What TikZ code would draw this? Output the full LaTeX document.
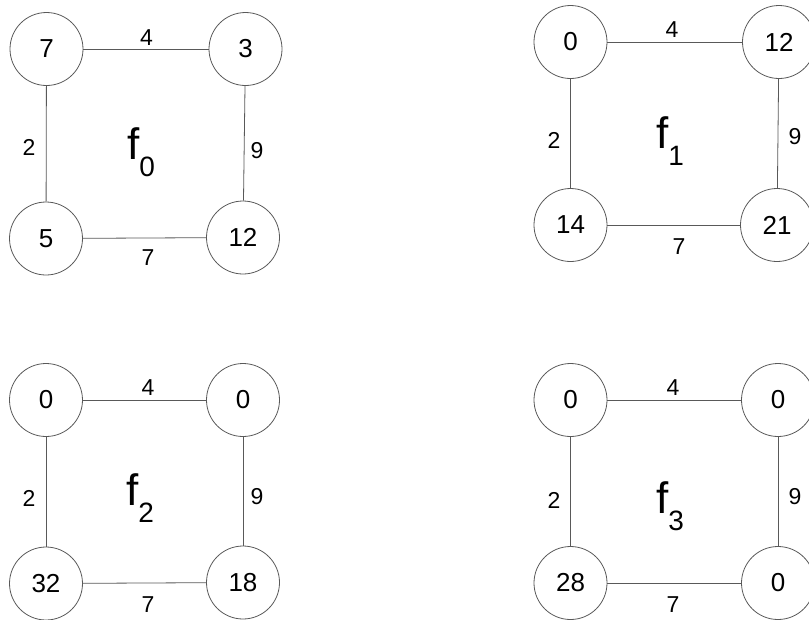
\documentclass[tikz,border=0pt]{standalone}
\usepackage{fontspec}
\setmainfont{Liberation Sans}
\begin{document}
\begin{tikzpicture}[x=1pt,y=-1pt,
  vtx/.style={circle,draw=black!65,line width=0.8pt,minimum size=73pt,inner sep=0pt,font=\fontsize{26}{26}\selectfont},
  edg/.style={draw=black!65,line width=0.8pt},
  wlab/.style={inner sep=0pt,font=\fontsize{23}{23}\selectfont},
  fname/.style={inner sep=0pt,anchor=base west}]
\newcommand{\fsub}[1]{{\fontsize{44}{44}\selectfont f}\raisebox{-17.5pt}{\fontsize{28}{28}\selectfont #1}}
\useasboundingbox (0,0) rectangle (809,619);
% panel f0
\node[vtx] (a1) at (46.5,49) {7};
\node[vtx] (a2) at (245.5,49) {3};
\node[vtx] (a3) at (46,238.5) {5};
\node[vtx] (a4) at (243,237.5) {12};
\draw[edg] (a1) -- (a2);
\draw[edg] (a1) -- (a3);
\draw[edg] (a2) -- (a4);
\draw[edg] (a3) -- (a4);
\node[wlab] (a12) at (146.5,38) {4};
\node[wlab] (a13) at (29,147) {2};
\node[wlab] (a24) at (257,151) {9};
\node[wlab] (a34) at (148,258) {7};
\node[fname] (fa) at (127,159) {\fsub{0}};
% panel f1
\node[vtx] (b1) at (570.5,42) {0};
\node[vtx] (b2) at (779,42) {12};
\node[vtx] (b3) at (570.5,225) {14};
\node[vtx] (b4) at (777,225) {21};
\draw[edg] (b1) -- (b2);
\draw[edg] (b1) -- (b3);
\draw[edg] (b2) -- (b4);
\draw[edg] (b3) -- (b4);
\node[wlab] (b12) at (672,30) {4};
\node[wlab] (b13) at (554,140) {2};
\node[wlab] (b24) at (795,137) {9};
\node[wlab] (b34) at (679,247) {7};
\node[fname] (fb) at (656,148) {\fsub{1}};
% panel f2
\node[vtx] (c1) at (46,400) {0};
\node[vtx] (c2) at (243,400) {0};
\node[vtx] (c3) at (46,583.5) {32};
\node[vtx] (c4) at (243,582.5) {18};
\draw[edg] (c1) -- (c2);
\draw[edg] (c1) -- (c3);
\draw[edg] (c2) -- (c4);
\draw[edg] (c3) -- (c4);
\node[wlab] (c12) at (148,388) {4};
\node[wlab] (c13) at (29,498) {2};
\node[wlab] (c24) at (257,497) {9};
\node[wlab] (c34) at (148,605) {7};
\node[fname] (fc) at (126,505) {\fsub{2}};
% panel f3
\node[vtx] (d1) at (570.5,400) {0};
\node[vtx] (d2) at (778,400) {0};
\node[vtx] (d3) at (570.5,583) {28};
\node[vtx] (d4) at (778,583) {0};
\draw[edg] (d1) -- (d2);
\draw[edg] (d1) -- (d3);
\draw[edg] (d2) -- (d4);
\draw[edg] (d3) -- (d4);
\node[wlab] (d12) at (673,388) {4};
\node[wlab] (d13) at (554,500) {2};
\node[wlab] (d24) at (795,497) {9};
\node[wlab] (d34) at (673,605) {7};
\node[fname] (fd) at (656,513) {\fsub{3}};
\end{tikzpicture}
\end{document}
